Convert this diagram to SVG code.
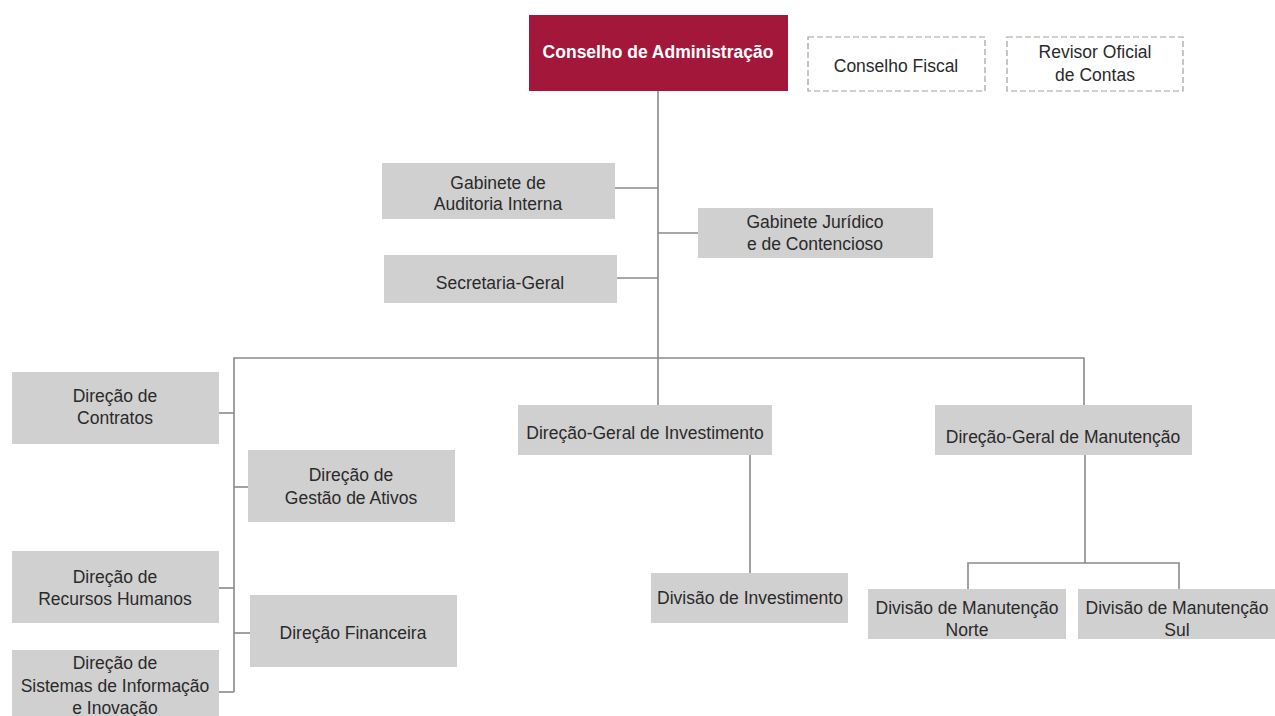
<svg xmlns="http://www.w3.org/2000/svg" width="1275" height="716" viewBox="0 0 1275 716">
<style>
.box{fill:#d0d0d0}
.t{font-family:"Liberation Sans",Arial,sans-serif;font-size:17.5px;fill:#2a2a2a;text-anchor:middle}
.w{fill:#ffffff;font-weight:bold}
.dash{fill:#ffffff;stroke:#a0a0a0;stroke-width:1.2;stroke-dasharray:6,3}
.c{fill:none;stroke:#8a8a8a;stroke-width:1.6}
</style>
<rect width="1275" height="716" fill="#ffffff"/>
<g id="connectors">
<path class="c" d="M658 91 V405"/>
<path class="c" d="M615 188 H658"/>
<path class="c" d="M617 278 H658"/>
<path class="c" d="M658 233 H698"/>
<path class="c" d="M234 692 V358 H1084 V405"/>
<path class="c" d="M219 413 H234"/>
<path class="c" d="M234 487 H248"/>
<path class="c" d="M219 588 H234"/>
<path class="c" d="M234 633 H250"/>
<path class="c" d="M219 692 H234"/>
<path class="c" d="M750 455 V573"/>
<path class="c" d="M1085 455 V563"/>
<path class="c" d="M968 589 V563 H1179 V589"/>
</g>
<g id="conselho-admin"><rect x="529" y="15" width="259" height="76" fill="#a3173b"/><text class="t w" x="658" y="58">Conselho de Administração</text></g>
<g id="conselho-fiscal"><rect class="dash" x="808" y="37" width="177" height="54"/><text class="t" x="896" y="72">Conselho Fiscal</text></g>
<g id="revisor"><rect class="dash" x="1007" y="37" width="176" height="54"/><text class="t" x="1095" y="58">Revisor Oficial</text><text class="t" x="1095" y="81">de Contas</text></g>
<g id="auditoria"><rect class="box" x="382" y="163" width="233" height="56"/><text class="t" x="498" y="189">Gabinete de</text><text class="t" x="498" y="210">Auditoria Interna</text></g>
<g id="juridico"><rect class="box" x="698" y="208" width="235" height="50"/><text class="t" x="815" y="228">Gabinete Jurídico</text><text class="t" x="815" y="250">e de Contencioso</text></g>
<g id="secretaria"><rect class="box" x="384" y="255" width="233" height="48"/><text class="t" x="500" y="289">Secretaria-Geral</text></g>
<g id="dg-investimento"><rect class="box" x="518" y="405" width="254" height="50"/><text class="t" x="645" y="439">Direção-Geral de Investimento</text></g>
<g id="dg-manutencao"><rect class="box" x="935" y="405" width="257" height="50"/><text class="t" x="1063" y="443">Direção-Geral de Manutenção</text></g>
<g id="contratos"><rect class="box" x="12" y="372" width="207" height="72"/><text class="t" x="115" y="402">Direção de</text><text class="t" x="115" y="424">Contratos</text></g>
<g id="ativos"><rect class="box" x="248" y="450" width="207" height="72"/><text class="t" x="351" y="481">Direção de</text><text class="t" x="351" y="504">Gestão de Ativos</text></g>
<g id="rh"><rect class="box" x="12" y="551" width="207" height="72"/><text class="t" x="115" y="583">Direção de</text><text class="t" x="115" y="605">Recursos Humanos</text></g>
<g id="financeira"><rect class="box" x="250" y="595" width="207" height="72"/><text class="t" x="353" y="639">Direção Financeira</text></g>
<g id="sistemas"><rect class="box" x="12" y="650" width="207" height="70"/><text class="t" x="115" y="669">Direção de</text><text class="t" x="115" y="692">Sistemas de Informação</text><text class="t" x="115" y="714">e Inovação</text></g>
<g id="div-investimento"><rect class="box" x="651" y="573" width="197" height="50"/><text class="t" x="750" y="604">Divisão de Investimento</text></g>
<g id="div-norte"><rect class="box" x="868" y="589" width="198" height="50"/><text class="t" x="967" y="614">Divisão de Manutenção</text><text class="t" x="967" y="636">Norte</text></g>
<g id="div-sul"><rect class="box" x="1078" y="589" width="197" height="50"/><text class="t" x="1177" y="614">Divisão de Manutenção</text><text class="t" x="1177" y="636">Sul</text></g>
</svg>
